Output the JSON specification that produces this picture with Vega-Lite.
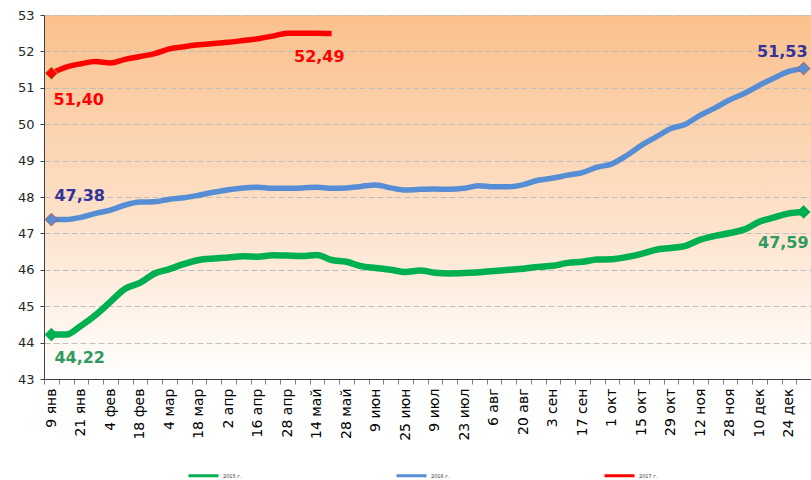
{
  "$schema": "https://vega.github.io/schema/vega-lite/v6.json",
  "width": 767,
  "height": 364,
  "autosize": {"type": "none"},
  "padding": {"left": 44, "top": 15, "right": 0, "bottom": 101},
  "background": "#FFFFFF",
  "config": {
    "font": "DejaVu Sans",
    "view": {
      "stroke": null,
      "fill": {
        "gradient": "linear",
        "x1": 0, "y1": 0, "x2": 0, "y2": 1,
        "stops": [
          {"offset": 0, "color": "#FAC08C"},
          {"offset": 0.55, "color": "#FDE1C9"},
          {"offset": 1, "color": "#FFFFFF"}
        ]
      }
    }
  },
  "datasets": {
    "series": [
      {"year": "2015 г.", "week": "9 янв", "value": 44.22},
      {"year": "2015 г.", "week": "14 янв", "value": 44.22},
      {"year": "2015 г.", "week": "21 янв", "value": 44.46},
      {"year": "2015 г.", "week": "28 янв", "value": 44.76},
      {"year": "2015 г.", "week": "4 фев", "value": 45.12},
      {"year": "2015 г.", "week": "11 фев", "value": 45.48},
      {"year": "2015 г.", "week": "18 фев", "value": 45.64},
      {"year": "2015 г.", "week": "25 фев", "value": 45.90},
      {"year": "2015 г.", "week": "4 мар", "value": 46.02},
      {"year": "2015 г.", "week": "11 мар", "value": 46.16},
      {"year": "2015 г.", "week": "18 мар", "value": 46.27},
      {"year": "2015 г.", "week": "25 мар", "value": 46.31},
      {"year": "2015 г.", "week": "2 апр", "value": 46.34},
      {"year": "2015 г.", "week": "8 апр", "value": 46.37},
      {"year": "2015 г.", "week": "16 апр", "value": 46.36},
      {"year": "2015 г.", "week": "22 апр", "value": 46.40},
      {"year": "2015 г.", "week": "28 апр", "value": 46.39},
      {"year": "2015 г.", "week": "6 май", "value": 46.38},
      {"year": "2015 г.", "week": "14 май", "value": 46.41},
      {"year": "2015 г.", "week": "20 май", "value": 46.27},
      {"year": "2015 г.", "week": "28 май", "value": 46.22},
      {"year": "2015 г.", "week": "3 июн", "value": 46.10},
      {"year": "2015 г.", "week": "9 июн", "value": 46.05},
      {"year": "2015 г.", "week": "17 июн", "value": 46.00},
      {"year": "2015 г.", "week": "25 июн", "value": 45.94},
      {"year": "2015 г.", "week": "1 июл", "value": 45.98},
      {"year": "2015 г.", "week": "9 июл", "value": 45.92},
      {"year": "2015 г.", "week": "15 июл", "value": 45.90},
      {"year": "2015 г.", "week": "23 июл", "value": 45.91},
      {"year": "2015 г.", "week": "29 июл", "value": 45.93},
      {"year": "2015 г.", "week": "6 авг", "value": 45.97},
      {"year": "2015 г.", "week": "12 авг", "value": 46.00},
      {"year": "2015 г.", "week": "20 авг", "value": 46.03},
      {"year": "2015 г.", "week": "26 авг", "value": 46.08},
      {"year": "2015 г.", "week": "3 сен", "value": 46.11},
      {"year": "2015 г.", "week": "9 сен", "value": 46.19},
      {"year": "2015 г.", "week": "17 сен", "value": 46.22},
      {"year": "2015 г.", "week": "23 сен", "value": 46.28},
      {"year": "2015 г.", "week": "1 окт", "value": 46.29},
      {"year": "2015 г.", "week": "7 окт", "value": 46.35},
      {"year": "2015 г.", "week": "15 окт", "value": 46.44},
      {"year": "2015 г.", "week": "21 окт", "value": 46.55},
      {"year": "2015 г.", "week": "29 окт", "value": 46.60},
      {"year": "2015 г.", "week": "4 ноя", "value": 46.66},
      {"year": "2015 г.", "week": "12 ноя", "value": 46.83},
      {"year": "2015 г.", "week": "19 ноя", "value": 46.93},
      {"year": "2015 г.", "week": "28 ноя", "value": 47.01},
      {"year": "2015 г.", "week": "3 дек", "value": 47.11},
      {"year": "2015 г.", "week": "10 дек", "value": 47.32},
      {"year": "2015 г.", "week": "17 дек", "value": 47.44},
      {"year": "2015 г.", "week": "24 дек", "value": 47.55},
      {"year": "2015 г.", "week": "31 дек", "value": 47.59},

      {"year": "2016 г.", "week": "9 янв", "value": 47.38},
      {"year": "2016 г.", "week": "14 янв", "value": 47.38},
      {"year": "2016 г.", "week": "21 янв", "value": 47.44},
      {"year": "2016 г.", "week": "28 янв", "value": 47.55},
      {"year": "2016 г.", "week": "4 фев", "value": 47.64},
      {"year": "2016 г.", "week": "11 фев", "value": 47.78},
      {"year": "2016 г.", "week": "18 фев", "value": 47.86},
      {"year": "2016 г.", "week": "25 фев", "value": 47.87},
      {"year": "2016 г.", "week": "4 мар", "value": 47.94},
      {"year": "2016 г.", "week": "11 мар", "value": 47.98},
      {"year": "2016 г.", "week": "18 мар", "value": 48.05},
      {"year": "2016 г.", "week": "25 мар", "value": 48.13},
      {"year": "2016 г.", "week": "2 апр", "value": 48.20},
      {"year": "2016 г.", "week": "8 апр", "value": 48.25},
      {"year": "2016 г.", "week": "16 апр", "value": 48.27},
      {"year": "2016 г.", "week": "22 апр", "value": 48.24},
      {"year": "2016 г.", "week": "28 апр", "value": 48.24},
      {"year": "2016 г.", "week": "6 май", "value": 48.25},
      {"year": "2016 г.", "week": "14 май", "value": 48.27},
      {"year": "2016 г.", "week": "20 май", "value": 48.24},
      {"year": "2016 г.", "week": "28 май", "value": 48.25},
      {"year": "2016 г.", "week": "3 июн", "value": 48.29},
      {"year": "2016 г.", "week": "9 июн", "value": 48.33},
      {"year": "2016 г.", "week": "17 июн", "value": 48.25},
      {"year": "2016 г.", "week": "25 июн", "value": 48.19},
      {"year": "2016 г.", "week": "1 июл", "value": 48.21},
      {"year": "2016 г.", "week": "9 июл", "value": 48.22},
      {"year": "2016 г.", "week": "15 июл", "value": 48.21},
      {"year": "2016 г.", "week": "23 июл", "value": 48.24},
      {"year": "2016 г.", "week": "29 июл", "value": 48.31},
      {"year": "2016 г.", "week": "6 авг", "value": 48.28},
      {"year": "2016 г.", "week": "12 авг", "value": 48.28},
      {"year": "2016 г.", "week": "20 авг", "value": 48.34},
      {"year": "2016 г.", "week": "26 авг", "value": 48.46},
      {"year": "2016 г.", "week": "3 сен", "value": 48.52},
      {"year": "2016 г.", "week": "9 сен", "value": 48.60},
      {"year": "2016 г.", "week": "17 сен", "value": 48.67},
      {"year": "2016 г.", "week": "23 сен", "value": 48.82},
      {"year": "2016 г.", "week": "1 окт", "value": 48.91},
      {"year": "2016 г.", "week": "7 окт", "value": 49.14},
      {"year": "2016 г.", "week": "15 окт", "value": 49.42},
      {"year": "2016 г.", "week": "21 окт", "value": 49.65},
      {"year": "2016 г.", "week": "29 окт", "value": 49.88},
      {"year": "2016 г.", "week": "4 ноя", "value": 50.00},
      {"year": "2016 г.", "week": "12 ноя", "value": 50.25},
      {"year": "2016 г.", "week": "19 ноя", "value": 50.45},
      {"year": "2016 г.", "week": "28 ноя", "value": 50.67},
      {"year": "2016 г.", "week": "3 дек", "value": 50.85},
      {"year": "2016 г.", "week": "10 дек", "value": 51.07},
      {"year": "2016 г.", "week": "17 дек", "value": 51.27},
      {"year": "2016 г.", "week": "24 дек", "value": 51.45},
      {"year": "2016 г.", "week": "31 дек", "value": 51.53},

      {"year": "2017 г.", "week": "9 янв", "value": 51.40},
      {"year": "2017 г.", "week": "14 янв", "value": 51.57},
      {"year": "2017 г.", "week": "21 янв", "value": 51.66},
      {"year": "2017 г.", "week": "28 янв", "value": 51.72},
      {"year": "2017 г.", "week": "4 фев", "value": 51.68},
      {"year": "2017 г.", "week": "11 фев", "value": 51.78},
      {"year": "2017 г.", "week": "18 фев", "value": 51.86},
      {"year": "2017 г.", "week": "25 фев", "value": 51.94},
      {"year": "2017 г.", "week": "4 мар", "value": 52.07},
      {"year": "2017 г.", "week": "11 мар", "value": 52.13},
      {"year": "2017 г.", "week": "18 мар", "value": 52.18},
      {"year": "2017 г.", "week": "25 мар", "value": 52.22},
      {"year": "2017 г.", "week": "2 апр", "value": 52.25},
      {"year": "2017 г.", "week": "8 апр", "value": 52.30},
      {"year": "2017 г.", "week": "16 апр", "value": 52.35},
      {"year": "2017 г.", "week": "22 апр", "value": 52.42},
      {"year": "2017 г.", "week": "28 апр", "value": 52.50},
      {"year": "2017 г.", "week": "6 май", "value": 52.50},
      {"year": "2017 г.", "week": "14 май", "value": 52.50},
      {"year": "2017 г.", "week": "20 май", "value": 52.49}
    ],
    "labels": [
      {"year": "2017 г.", "week": "9 янв", "value": 51.40, "text": "51,40"},
      {"year": "2017 г.", "week": "20 май", "value": 52.49, "text": "52,49"},
      {"year": "2016 г.", "week": "9 янв", "value": 47.38, "text": "47,38"},
      {"year": "2016 г.", "week": "31 дек", "value": 51.53, "text": "51,53"},
      {"year": "2015 г.", "week": "9 янв", "value": 44.22, "text": "44,22"},
      {"year": "2015 г.", "week": "31 дек", "value": 47.59, "text": "47,59"}
    ]
  },
  "encoding": {
    "x": {
      "field": "week",
      "type": "ordinal",
      "sort": null,
      "scale": {"type": "band", "paddingInner": 0, "paddingOuter": 0},
      "axis": {
        "title": null,
        "tickBand": "extent",
        "labelAngle": -90,
        "labelAlign": "right",
        "labelBaseline": "middle",
        "labelFontSize": 14,
        "labelColor": "#000000",
        "labelOverlap": false,
        "labelPadding": 4,
        "labelExpr": "indexof(['9 янв','21 янв','4 фев','18 фев','4 мар','18 мар','2 апр','16 апр','28 апр','14 май','28 май','9 июн','25 июн','9 июл','23 июл','6 авг','20 авг','3 сен','17 сен','1 окт','15 окт','29 окт','12 ноя','28 ноя','10 дек','24 дек'], datum.value) >= 0 ? datum.value : ''",
        "tickSize": 5,
        "tickColor": "#7F7F7F",
        "domainColor": "#404040",
        "grid": false
      }
    },
    "y": {
      "field": "value",
      "type": "quantitative",
      "scale": {"domain": [43, 53], "nice": false, "zero": false},
      "axis": {
        "title": null,
        "values": [43, 44, 45, 46, 47, 48, 49, 50, 51, 52, 53],
        "labelFontSize": 13,
        "labelColor": "#262626",
        "labelPadding": 6,
        "tickSize": 4,
        "tickColor": "#404040",
        "domainColor": "#404040",
        "grid": true,
        "gridColor": "#BFBFBF",
        "gridDash": [6, 3],
        "gridWidth": 1
      }
    }
  },
  "layer": [
    {
      "data": {"name": "series"},
      "transform": [{"filter": "datum.year == '2015 г.'"}],
      "mark": {"type": "line", "strokeWidth": 6.5, "interpolate": "monotone"},
      "encoding": {
        "color": {
          "field": "year",
          "type": "nominal",
          "scale": {"domain": ["2015 г.", "2016 г.", "2017 г."], "range": ["#00B050", "#558ED5", "#FF0000"]},
          "legend": {
            "orient": "none",
            "direction": "horizontal",
            "legendX": 143,
            "legendY": 444,
            "title": null,
            "symbolType": "stroke",
            "symbolSize": 900,
            "symbolStrokeWidth": 3,
            "labelFontSize": 5,
            "labelColor": "#333333",
            "labelOffset": 3,
            "columnPadding": 148,
            "padding": 0
          }
        }
      }
    },
    {
      "data": {"name": "series"},
      "transform": [{"filter": "datum.year == '2016 г.'"}],
      "mark": {"type": "line", "strokeWidth": 5.5, "interpolate": "monotone"},
      "encoding": {"color": {"field": "year", "type": "nominal"}}
    },
    {
      "data": {"name": "series"},
      "transform": [{"filter": "datum.year == '2017 г.'"}],
      "mark": {"type": "line", "strokeWidth": 5.5, "interpolate": "monotone"},
      "encoding": {"color": {"field": "year", "type": "nominal"}}
    },
    {
      "data": {"name": "labels"},
      "transform": [{"filter": "datum.text != '52,49'"}],
      "mark": {"type": "point", "shape": "diamond", "filled": true, "size": 160, "opacity": 1, "strokeWidth": 1},
      "encoding": {
        "color": {"field": "year", "type": "nominal"},
        "stroke": {
          "condition": [
            {"test": "datum.year == '2017 г.'", "value": "#9BBB59"},
            {"test": "datum.year == '2015 г.'", "value": "#00B050"}
          ],
          "value": "#C0504D"
        }
      }
    },
    {
      "data": {"name": "labels"},
      "transform": [{"filter": "datum.text == '51,40'"}],
      "mark": {"type": "text", "fontSize": 16, "fontWeight": "bold", "align": "left", "baseline": "alphabetic", "dx": 2, "dy": 32, "color": "#FF0000"},
      "encoding": {"text": {"field": "text"}}
    },
    {
      "data": {"name": "labels"},
      "transform": [{"filter": "datum.text == '52,49'"}],
      "mark": {"type": "text", "fontSize": 16, "fontWeight": "bold", "align": "right", "baseline": "alphabetic", "dx": 13, "dy": 28, "color": "#FF0000"},
      "encoding": {"text": {"field": "text"}}
    },
    {
      "data": {"name": "labels"},
      "transform": [{"filter": "datum.text == '47,38'"}],
      "mark": {"type": "text", "fontSize": 16, "fontWeight": "bold", "align": "left", "baseline": "alphabetic", "dx": 3, "dy": -19, "color": "#333399"},
      "encoding": {"text": {"field": "text"}}
    },
    {
      "data": {"name": "labels"},
      "transform": [{"filter": "datum.text == '51,53'"}],
      "mark": {"type": "text", "fontSize": 16, "fontWeight": "bold", "align": "right", "baseline": "alphabetic", "dx": 4, "dy": -12, "color": "#333399"},
      "encoding": {"text": {"field": "text"}}
    },
    {
      "data": {"name": "labels"},
      "transform": [{"filter": "datum.text == '44,22'"}],
      "mark": {"type": "text", "fontSize": 16, "fontWeight": "bold", "align": "left", "baseline": "alphabetic", "dx": 3, "dy": 28, "color": "#2F9A5E"},
      "encoding": {"text": {"field": "text"}}
    },
    {
      "data": {"name": "labels"},
      "transform": [{"filter": "datum.text == '47,59'"}],
      "mark": {"type": "text", "fontSize": 16, "fontWeight": "bold", "align": "right", "baseline": "alphabetic", "dx": 5, "dy": 36, "color": "#2F9A5E"},
      "encoding": {"text": {"field": "text"}}
    }
  ]
}
